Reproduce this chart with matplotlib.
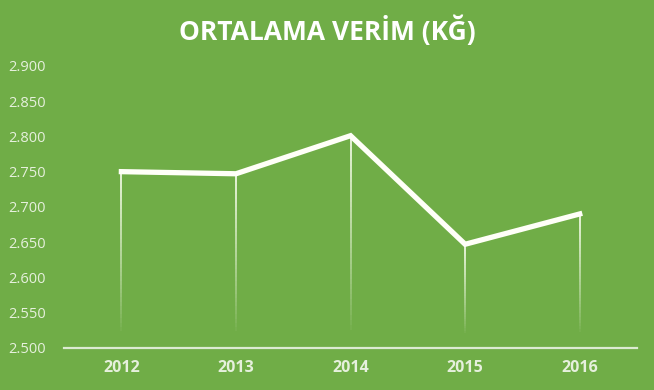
import numpy as np
import matplotlib
matplotlib.use("Agg")
import matplotlib.pyplot as plt
from matplotlib.collections import LineCollection

# data
years = ["2012", "2013", "2014", "2015", "2016"]
verim = [2.750, 2.747, 2.801, 2.647, 2.690]
yticks = [2.500, 2.550, 2.600, 2.650, 2.700, 2.750, 2.800, 2.850, 2.900]
title = "ORTALAMA VERİM (KĞ)"

bg = "#70AD47"
plt.rcParams['font.family'] = ['Open Sans', 'DejaVu Sans']

fig = plt.figure(figsize=(6.54, 3.90), dpi=100, facecolor=bg)
ax = fig.add_axes([0.098, 0.108, 0.876, 0.723], facecolor=bg)

x = np.arange(len(years))

# drop lines fading towards the bottom
for xi, v in zip(x, verim):
    ys = np.linspace(2.518, v, 40)
    segs = [[(xi, ys[i]), (xi, ys[i + 1])] for i in range(len(ys) - 1)]
    alphas = np.linspace(0.0, 0.95, len(segs)) ** 0.8
    cols = [(0.93, 0.97, 0.88, a) for a in alphas]
    ax.add_collection(LineCollection(segs, colors=cols, linewidths=1.4, capstyle='butt'))

ax.plot(x, verim, color="#FFFFF8", lw=3.8, solid_joinstyle='miter', zorder=3)

ax.set_xlim(-0.5, len(years) - 0.5)
ax.set_ylim(2.5, 2.9)
ax.set_xticks(x)
ax.set_xticklabels(years, fontsize=11.5, fontweight='bold', color="#E6F0DD")
ax.set_yticks(yticks)
ax.set_yticklabels([f"{t:.3f}" for t in yticks], fontsize=10.5, color="#E6F0DD")
ax.tick_params(length=0)
ax.tick_params(axis='y', pad=13)
ax.tick_params(axis='x', pad=9)

for s in ['top', 'right', 'left']:
    ax.spines[s].set_visible(False)
ax.spines['bottom'].set_color("#DCEBD2")
ax.spines['bottom'].set_linewidth(1.6)

fig.text(0.5, 0.922, title, ha='center', va='center', fontsize=19,
         fontweight='bold', color='white')

fig.savefig("out.png", dpi=100, facecolor=bg)
